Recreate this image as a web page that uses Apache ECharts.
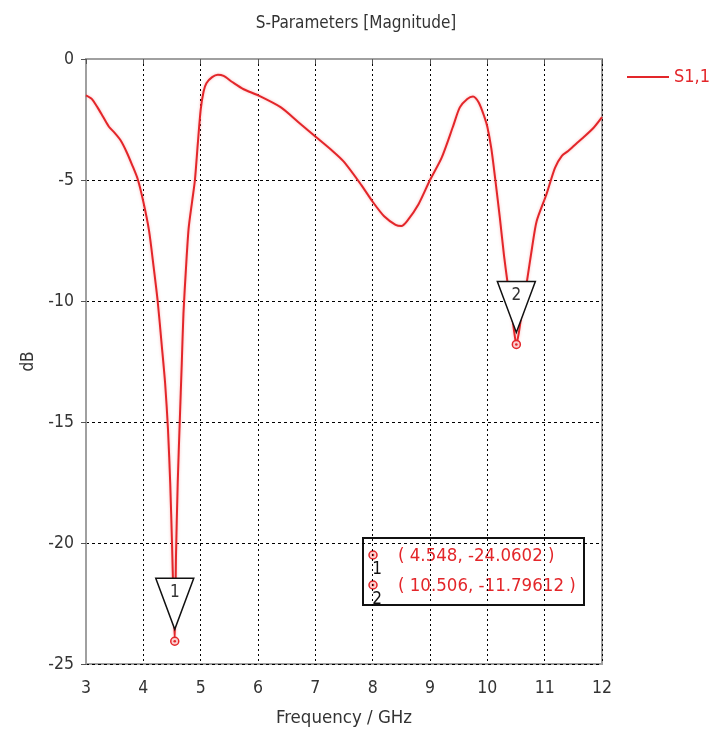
<!DOCTYPE html>
<html><head><meta charset="utf-8">
<script src="https://cdn.jsdelivr.net/npm/echarts@6/dist/echarts.min.js"></script>
<style>html,body{margin:0;padding:0;background:#fff}#c{width:714px;height:733px}</style>
</head><body><div id="c"></div>
<script>
const titleText = 'S-Parameters [Magnitude]';
const seriesName = 'S1,1';
const xName = 'Frequency / GHz';
const yName = 'dB';
const freq = [3.00,3.10,3.20,3.30,3.40,3.50,3.60,3.70,3.80,3.90,4.00,4.10,4.18,4.25,4.32,4.38,4.43,4.47,4.50,4.525,4.548,4.57,4.60,4.635,4.67,4.70,4.745,4.79,4.85,4.90,4.95,5.00,5.05,5.10,5.20,5.30,5.40,5.55,5.75,6.00,6.40,6.70,7.00,7.30,7.50,7.80,8.00,8.20,8.40,8.50,8.60,8.80,9.00,9.20,9.40,9.52,9.65,9.75,9.85,9.95,10.00,10.07,10.14,10.22,10.29,10.35,10.42,10.47,10.506,10.55,10.60,10.69,10.78,10.86,11.03,11.18,11.30,11.41,11.55,11.67,11.85,12.00];
const s11 = [-1.5,-1.65,-2.0,-2.4,-2.8,-3.05,-3.35,-3.8,-4.35,-4.95,-5.9,-7.1,-8.6,-10.0,-11.8,-13.4,-15.3,-17.6,-20.0,-22.3,-24.06,-20.5,-17.5,-15.0,-12.6,-10.5,-8.6,-7.0,-5.9,-5.0,-3.5,-2.1,-1.35,-1.0,-0.75,-0.65,-0.7,-0.95,-1.25,-1.5,-2.0,-2.6,-3.2,-3.8,-4.25,-5.2,-5.9,-6.5,-6.85,-6.9,-6.7,-6.0,-5.0,-4.1,-2.8,-2.0,-1.65,-1.55,-1.8,-2.4,-2.8,-3.7,-5.0,-6.6,-8.1,-9.2,-10.4,-11.3,-11.796,-11.3,-10.5,-9.2,-7.8,-6.7,-5.6,-4.5,-4.0,-3.8,-3.5,-3.25,-2.85,-2.4];
const markerIds = ['1','2'];
const markerX = [4.548, 10.506];
const markerY = [-24.0602, -11.79612];
const markerXText = ['4.548','10.506'];
const markerYText = ['-24.0602','-11.79612'];
const xTicks = [3,4,5,6,7,8,9,10,11,12];
const yTicks = [0,-5,-10,-15,-20,-25];

const RED = '#e3262a';
const FONT = '"DejaVu Sans Condensed", "DejaVu Sans", sans-serif';
const TXT = '#333';
const chart = echarts.init(document.getElementById('c'));
const lineData = freq.map((f,i)=>[f,s11[i]]);
const mkData = markerX.map((x,i)=>[x, markerY[i], markerIds[i]]);

const boxChildren = [{type:'rect', shape:{x:0,y:0,width:221,height:67}, style:{fill:'#fff',stroke:'#111',lineWidth:2}}];
markerIds.forEach((id,i)=>{
  const cy = 17 + i*30;
  boxChildren.push({type:'circle', shape:{cx:10,cy:cy,r:4}, style:{fill:'#fbd0d0',stroke:RED,lineWidth:1.5}});
  boxChildren.push({type:'circle', shape:{cx:10,cy:cy,r:1.3}, style:{fill:RED}});
  boxChildren.push({type:'text', x:14, y:cy+15, style:{text:id, fill:'#111', font:'17px '+FONT, align:'center', verticalAlign:'middle'}});
  boxChildren.push({type:'text', x:35, y:cy+1, style:{text:'( '+markerXText[i]+', '+markerYText[i]+' )', fill:RED, font:'18.5px '+FONT, verticalAlign:'middle'}});
});

chart.setOption({
  animation:false,
  backgroundColor:'#fff',
  title:{text:titleText, left:351, textAlign:'center', top:10, textStyle:{fontFamily:FONT, fontSize:17, fontWeight:'normal', color:TXT}},
  legend:{data:[seriesName], left:622, top:63, itemWidth:42, itemHeight:18, icon:'path://M0,8L40,8L40,10L0,10Z', textStyle:{fontFamily:FONT,fontSize:18,color:RED}},
  grid:{left:86, right:112, top:59, bottom:68, show:true, borderColor:'#a0a0a0', borderWidth:2},
  xAxis:{type:'value', min:3, max:12, interval:1, name:xName, nameLocation:'middle', nameGap:45,
    nameTextStyle:{fontFamily:FONT,fontSize:18.5,color:TXT},
    axisLine:{lineStyle:{color:'#a0a0a0',width:2}}, axisTick:{length:5,lineStyle:{color:'#555'}},
    axisLabel:{fontFamily:FONT,fontSize:17.5,color:TXT,margin:15, customValues:xTicks},
    splitLine:{show:true,lineStyle:{color:'#000',type:[2,3],width:1}}},
  yAxis:{type:'value', min:-25, max:0, interval:5, name:yName, nameLocation:'middle', nameGap:44,
    nameTextStyle:{fontFamily:FONT,fontSize:17,color:TXT},
    axisLine:{lineStyle:{color:'#a0a0a0',width:2}}, axisTick:{length:5,lineStyle:{color:'#555'}},
    axisLabel:{fontFamily:FONT,fontSize:17.5,color:TXT,margin:12, customValues:yTicks},
    splitLine:{show:true,lineStyle:{color:'#000',type:[3,3],width:1}}},
  series:[
    {name:seriesName, type:'line', data:lineData, smooth:0.25, symbol:'none', z:3,
      lineStyle:{color:RED,width:2,shadowColor:'rgba(240,80,80,0.4)',shadowBlur:3}, itemStyle:{color:RED}},
    {type:'custom', data:mkData, z:5, silent:true,
      renderItem:function(params, api){
        const p = api.coord([api.value(0), api.value(1)]);
        const id = mkData[params.dataIndex][2];
        const ax = p[0], ay = p[1]-12, top = p[1]-63, hw = 19;
        return {type:'group', children:[
          {type:'polygon', shape:{points:[[ax-hw,top],[ax+hw,top],[ax,ay]]}, style:{fill:'#fff',stroke:'#111',lineWidth:1.5}},
          {type:'text', x:ax, y:top+14, style:{text:id, fill:'#333', font:'17px '+FONT, align:'center', verticalAlign:'middle'}},
          {type:'circle', shape:{cx:p[0],cy:p[1],r:4}, style:{fill:'#fbd0d0',stroke:RED,lineWidth:1.5}},
          {type:'circle', shape:{cx:p[0],cy:p[1],r:1.3}, style:{fill:RED}}
        ]};
      }}
  ],
  graphic:[{type:'group', left:362, top:537, z:10, children:boxChildren}]
});
</script></body></html>
